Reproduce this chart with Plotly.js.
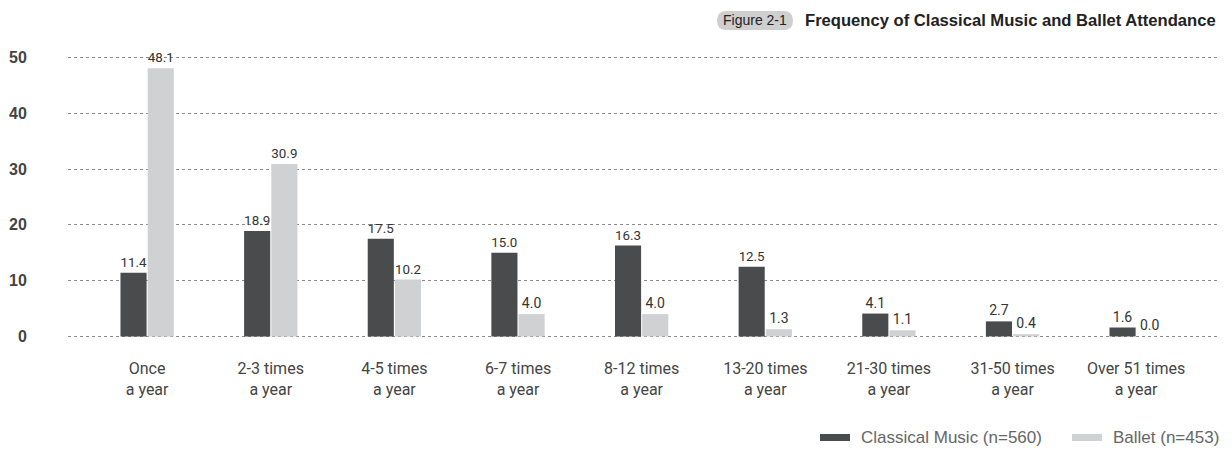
<!DOCTYPE html>
<html>
<head>
<meta charset="utf-8">
<script src="https://cdn.plot.ly/plotly-3.0.1.min.js"></script>
<style>
  html, body { margin: 0; padding: 0; background: #fff; }
  #chart { width: 1232px; height: 450px; }
</style>
</head>
<body>
<div id="chart"></div>
<script>
// Attendance frequency categories (two-line tick labels)
const categories = [
  "Once<br>a year", "2-3 times<br>a year", "4-5 times<br>a year",
  "6-7 times<br>a year", "8-12 times<br>a year", "13-20 times<br>a year",
  "21-30 times<br>a year", "31-50 times<br>a year", "Over 51 times<br>a year"
];

// Share of respondents (%)
const classicalValues = [11.4, 18.9, 17.5, 15.0, 16.3, 12.5, 4.1, 2.7, 1.6];
const balletValues    = [48.1, 30.9, 10.2, 4.0, 4.0, 1.3, 1.1, 0.4, 0.0];

const seriesNames = ["Classical Music (n=560)", "Ballet (n=453)"];
const yTicks = [0, 10, 20, 30, 40, 50];

const DARK = "#4a4b4d";
const LIGHT = "#d0d1d3";
const xIdx = categories.map((_, i) => i);

const labelFont = { family: "Roboto, sans-serif", size: 14, color: "#333" };

function barTrace(vals, name, color) {
  return {
    type: "bar",
    x: xIdx,
    y: vals,
    name: name,
    marker: { color: color },
    text: vals.map(v => v.toFixed(1)),
    textposition: "outside",
    textfont: labelFont,
    cliponaxis: false,
    hoverinfo: "skip",
    showlegend: false
  };
}

const data = [
  barTrace(classicalValues, seriesNames[0], DARK),
  barTrace(balletValues, seriesNames[1], LIGHT)
];

// Value axis runs a little past 0 and 50 so both end gridlines are drawn
const Y_MIN = -1, Y_MAX = 51;
const PX_PER_UNIT = 278 / 50;

// Plot area geometry in pixels, used to place the header and legend
const W = 1232, H = 450, L = 68, R = 13;
const B = Math.round(H - 336 - (0 - Y_MIN) * PX_PER_UNIT);
const T = Math.round(58 - (Y_MAX - 50) * PX_PER_UNIT);
const pw = W - L - R, ph = H - T - B;
const px = x => (x - L) / pw;
const py = y => (H - B - y) / ph;

const layout = {
  width: W,
  height: H,
  margin: { l: L, r: R, t: T, b: B, pad: 0 },
  paper_bgcolor: "#fff",
  plot_bgcolor: "#fff",
  barmode: "group",
  bargap: 0.56,
  bargroupgap: 0.04,
  xaxis: {
    tickmode: "array",
    tickvals: xIdx,
    ticktext: categories,
    range: [-0.64, 8.67],
    showgrid: false,
    zeroline: false,
    showline: false,
    ticks: "outside",
    ticklen: 12,
    tickcolor: "rgba(0,0,0,0)",
    tickfont: { family: "Roboto, sans-serif", size: 16, color: "#444" },
    fixedrange: true
  },
  yaxis: {
    range: [Y_MIN, Y_MAX],
    tickmode: "array",
    tickvals: yTicks,
    ticktext: yTicks.map(String),
    showgrid: true,
    gridcolor: "#8a8a8a",
    griddash: "dot",
    gridwidth: 1,
    zeroline: false,
    showline: false,
    ticks: "outside",
    ticklen: 37,
    tickcolor: "rgba(0,0,0,0)",
    tickfont: { family: "'Liberation Sans', Arial, sans-serif", size: 16, color: "#444", weight: "bold" },
    fixedrange: true
  },
  shapes: [
    // header badge
    { type: "path", xref: "paper", yref: "paper",
      path: (() => {
        const x0 = 717, x1 = 793, y0 = 11, y1 = 30, r = 9.5;
        const X = v => px(v), Y = v => py(v);
        return `M ${X(x0 + r)} ${Y(y0)} L ${X(x1 - r)} ${Y(y0)} ` +
               `Q ${X(x1)} ${Y(y0)} ${X(x1)} ${Y((y0 + y1) / 2)} ` +
               `Q ${X(x1)} ${Y(y1)} ${X(x1 - r)} ${Y(y1)} ` +
               `L ${X(x0 + r)} ${Y(y1)} ` +
               `Q ${X(x0)} ${Y(y1)} ${X(x0)} ${Y((y0 + y1) / 2)} ` +
               `Q ${X(x0)} ${Y(y0)} ${X(x0 + r)} ${Y(y0)} Z`;
      })(),
      fillcolor: "#cfcfcf", line: { width: 0 } },
    // legend swatches
    { type: "rect", xref: "paper", yref: "paper",
      x0: px(820), x1: px(850), y0: py(434), y1: py(441),
      fillcolor: DARK, line: { width: 0 } },
    { type: "rect", xref: "paper", yref: "paper",
      x0: px(1072), x1: px(1102), y0: py(434), y1: py(441),
      fillcolor: LIGHT, line: { width: 0 } }
  ],
  annotations: [
    { xref: "paper", yref: "paper", x: px(755), y: py(20.5), xanchor: "center", yanchor: "middle",
      text: "Figure 2-1", showarrow: false,
      font: { family: "'Liberation Sans', Arial, sans-serif", size: 14, color: "#222" } },
    { xref: "paper", yref: "paper", x: px(1218), y: py(20.5), xanchor: "right", yanchor: "middle",
      text: "<b>Frequency of Classical Music and Ballet Attendance</b>", showarrow: false,
      font: { family: "'Liberation Sans', Arial, sans-serif", size: 16.6, color: "#222" } },
    { xref: "paper", yref: "paper", x: px(859), y: py(437.5), xanchor: "left", yanchor: "middle",
      text: seriesNames[0], showarrow: false,
      font: { family: "'Liberation Sans', Arial, sans-serif", size: 17, color: "#666" } },
    { xref: "paper", yref: "paper", x: px(1111), y: py(437.5), xanchor: "left", yanchor: "middle",
      text: seriesNames[1], showarrow: false,
      font: { family: "'Liberation Sans', Arial, sans-serif", size: 17, color: "#666" } }
  ],
  showlegend: false
};

Plotly.newPlot("chart", data, layout, { displayModeBar: false, staticPlot: true });
</script>
</body>
</html>
